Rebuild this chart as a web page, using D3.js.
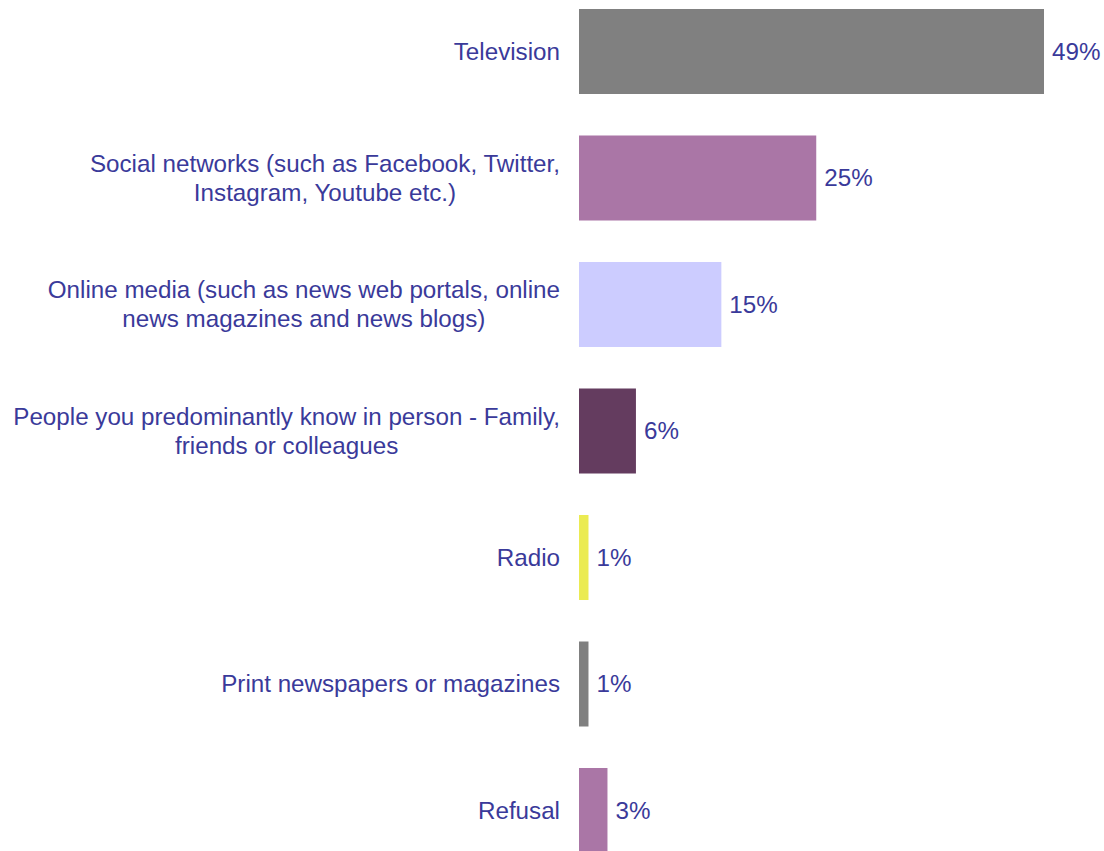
<!DOCTYPE html>
<html>
<head>
<meta charset="utf-8">
<script src="https://cdn.jsdelivr.net/npm/d3@7"></script>
<style>
  html, body { margin: 0; padding: 0; background: #fff; }
  svg { display: block; }
  text { font-family: "Liberation Sans", Arial, sans-serif; }
</style>
</head>
<body>
<svg id="chart" width="1104" height="851"></svg>
<script>
// Main source of news — share of respondents
const categories = [
  ["Television"],
  ["Social networks (such as Facebook, Twitter,", "Instagram, Youtube etc.)"],
  ["Online media (such as news web portals, online", "news magazines and news blogs)"],
  ["People you predominantly know in person - Family,", "friends or colleagues"],
  ["Radio"],
  ["Print newspapers or magazines"],
  ["Refusal"]
];
const values = [49, 25, 15, 6, 1, 1, 3];
const colors = ["#808080", "#aa76a6", "#ccccff", "#643c5f", "#ebeb52", "#808080", "#aa76a6"];

const svg = d3.select("#chart");
const fontSize = 24.2;
const textColor = "#3a3a9a";
const x0 = 579;

const x = d3.scaleLinear().domain([0, 49]).range([x0, 1044]);
const y = d3.scaleBand()
  .domain(d3.range(categories.length))
  .range([-11.75, 873.75])
  .paddingInner(0.328)
  .paddingOuter(0.164);

const rows = svg.selectAll("g.row")
  .data(values.map((v, i) => ({ v, i, label: categories[i], color: colors[i] })))
  .join("g")
  .attr("class", "row");

rows.append("rect")
  .attr("x", x(0))
  .attr("y", d => y(d.i))
  .attr("width", d => x(d.v) - x(0))
  .attr("height", y.bandwidth())
  .attr("fill", d => d.color);

rows.append("text")
  .attr("x", d => x(d.v) + 8)
  .attr("y", d => y(d.i) + y.bandwidth() / 2)
  .attr("dy", "0.35em")
  .attr("font-size", fontSize)
  .attr("fill", textColor)
  .text(d => d.v + "%");

// Category labels: block right-aligned at the axis, lines centred within the block
const labelRight = 560;
const lineH = 29;
rows.each(function(d) {
  const g = d3.select(this);
  const t = g.append("text")
    .attr("font-size", fontSize)
    .attr("fill", textColor)
    .attr("text-anchor", "middle");
  const cy = y(d.i) + y.bandwidth() / 2;
  const n = d.label.length;
  d.label.forEach((line, k) => {
    t.append("tspan")
      .attr("y", cy + (k - (n - 1) / 2) * lineH)
      .attr("dy", "0.35em")
      .text(line);
  });
  let maxW = 0;
  t.selectAll("tspan").each(function() {
    maxW = Math.max(maxW, this.getComputedTextLength());
  });
  t.selectAll("tspan").attr("x", labelRight - maxW / 2);
});
</script>
</body>
</html>
